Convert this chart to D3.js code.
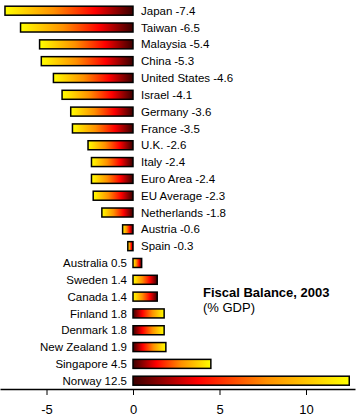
<!DOCTYPE html>
<html><head><meta charset="utf-8">
<script src="https://cdn.jsdelivr.net/npm/d3@7"></script>
<style>body{margin:0;background:#fff;}svg{display:block;}</style>
</head><body>
<script>
const countries = ["Japan","Taiwan","Malaysia","China","United States","Israel","Germany","France","U.K.","Italy","Euro Area","EU Average","Netherlands","Austria","Spain","Australia","Sweden","Canada","Finland","Denmark","New Zealand","Singapore","Norway"];
const balances = [-7.4,-6.5,-5.4,-5.3,-4.6,-4.1,-3.6,-3.5,-2.6,-2.4,-2.4,-2.3,-1.8,-0.6,-0.3,0.5,1.4,1.4,1.8,1.8,1.9,4.5,12.5];
const tickValues = [-5,0,5,10];
const title = "Fiscal Balance, 2003";
const subtitle = "(% GDP)";

const W = 363, H = 417;
const svg = d3.select("body").append("svg").attr("width", W).attr("height", H);
const font = "Arial, 'Liberation Sans', sans-serif";

const x = d3.scaleLinear().domain([-133/17.3, 222/17.3]).range([0, 355]);
const y = d3.scalePoint().domain(countries).range([10.7, 380.7]);
const barH = 9;

const defs = svg.append("defs");
function grad(id, yellowLeft) {
  const g = defs.append("linearGradient").attr("id", id).attr("x1", 0).attr("x2", 1).attr("y1", 0).attr("y2", 0);
  const stops = [[0, "#3a0000"], [0.3, "#ff0000"], [0.62, "#ff9000"], [1, "#ffff00"]];
  stops.forEach(([o, c]) => g.append("stop").attr("offset", yellowLeft ? 1 - o : o).attr("stop-color", c));
  if (yellowLeft) g.selectAll("stop").sort((a, b) => 0);
  return g;
}
// yellow-left gradient: stops need increasing offsets
(function(){
  const g = defs.append("linearGradient").attr("id", "gL").attr("x1", 0).attr("x2", 1);
  [[0, "#ffff00"], [0.38, "#ff9000"], [0.7, "#ff0000"], [1, "#3a0000"]].forEach(([o, c]) => g.append("stop").attr("offset", o).attr("stop-color", c));
  const h = defs.append("linearGradient").attr("id", "gR").attr("x1", 0).attr("x2", 1);
  [[0, "#3a0000"], [0.3, "#ff0000"], [0.62, "#ff9000"], [1, "#ffff00"]].forEach(([o, c]) => h.append("stop").attr("offset", o).attr("stop-color", c));
})();

const data = countries.map((c, i) => ({ name: c, v: balances[i], i }));
const flipAt = countries.indexOf("Finland");

svg.append("g").selectAll("rect").data(data).join("rect")
  .attr("x", d => x(Math.min(0, d.v)))
  .attr("y", d => y(d.name) - barH / 2)
  .attr("width", d => Math.abs(x(d.v) - x(0)))
  .attr("height", barH)
  .attr("fill", d => d.i >= flipAt ? "url(#gR)" : "url(#gL)")
  .attr("stroke", "#000").attr("stroke-width", 1.5);

svg.append("g").selectAll("text").data(data).join("text")
  .attr("x", d => d.v < 0 ? x(0) + 8 : x(0) - 6)
  .attr("y", d => y(d.name))
  .attr("dy", "0.36em")
  .attr("text-anchor", d => d.v < 0 ? "start" : "end")
  .attr("font-family", font).attr("font-size", "11.5px").attr("fill", "#000")
  .text(d => `${d.name} ${d.v}`);

const axis = d3.axisBottom(x).tickValues(tickValues).tickSize(6).tickSizeOuter(0).tickPadding(10).tickFormat(d3.format("d"));
const ag = svg.append("g").attr("transform", "translate(0,389)").call(axis);
ag.select(".domain").attr("stroke", "#000").attr("stroke-width", 1.5);
ag.selectAll(".tick line").attr("stroke", "#000").attr("stroke-width", 1);
ag.selectAll(".tick text").attr("font-family", font).attr("font-size", "13px").attr("fill", "#000")
  .text(d => d < 0 ? "-" + Math.abs(d) : d);

svg.append("text").attr("x", 203).attr("y", 297).attr("font-family", font).attr("font-size", "13px").attr("font-weight", "bold").text(title);
svg.append("text").attr("x", 203).attr("y", 312).attr("font-family", font).attr("font-size", "13px").text(subtitle);
</script>
</body></html>
